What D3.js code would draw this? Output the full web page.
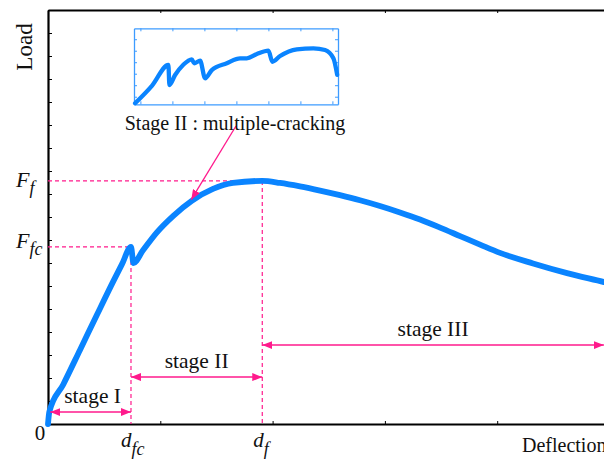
<!DOCTYPE html>
<html>
<head>
<meta charset="utf-8">
<script src="https://cdn.jsdelivr.net/npm/d3@7"></script>
<style>
  body { margin: 0; background: #fff; }
  svg { display: block; }
  text { font-family: "Liberation Serif", "Times New Roman", serif; fill: #111; }
</style>
</head>
<body>
<svg id="chart" width="604" height="463"></svg>
<script>
// Load–deflection response of the beam (arbitrary units)
const deflection = [0, 0.012, 0.136, 0.285, 0.436, 0.581, 0.659, 0.739, 0.761, 0.846, 0.968, 1.116, 1.28, 1.469, 1.647, 1.908, 2.066, 2.244, 2.422, 2.6, 2.778, 2.956, 3.134, 3.313, 3.491, 3.669, 3.847, 4.025, 4.319, 4.622, 4.951, 5.0];
const load = [0, 0.53, 1.72, 3.22, 4.75, 6.20, 6.95, 7.70, 7.0, 7.55, 8.32, 9.05, 9.70, 10.22, 10.48, 10.57, 10.48, 10.33, 10.15, 9.95, 9.73, 9.48, 9.20, 8.89, 8.54, 8.17, 7.80, 7.44, 6.98, 6.56, 6.17, 6.11];

// Close-up of the multiple-cracking branch
const insetX = [-0.166, 0.366, 0.875, 0.906, 1.084, 1.334, 1.606, 1.678, 1.866, 2.022, 2.231, 2.70, 3.116, 3.325, 3.638, 4.0, 4.125, 4.366, 4.888, 5.406, 5.772, 6.031, 6.15];
const insetY = [-0.57, 0.97, 2.76, 1.02, 1.89, 2.76, 3.25, 2.91, 3.13, 1.60, 2.32, 2.91, 3.34, 3.34, 3.71, 4.0, 3.04, 3.54, 4.12, 4.21, 4.06, 3.34, 1.9];

// Characteristic points
const dFc = 0.739, dF = 1.908;   // deflection at first crack / at peak
const FFc = 7.70, FF = 10.57;    // load at first crack / peak load

// Stage spans: [start, end, arrow height]
const stages = [
  { name: "stage I",   from: 0.02, to: dFc,  level: 0.52 },
  { name: "stage II",  from: dFc,  to: dF,   level: 2.04 },
  { name: "stage III", from: dF,   to: 4.95, level: 3.43 }
];

const xTicks = [0, 1, 2, 3, 4, 5];
const yTicks = d3.range(1, 18);
const insetXTicks = [0, 1, 2, 3, 4, 5, 6];
const insetYTicks = [0, 1, 2, 3, 4, 5];

const BLUE = "#0a84ff";
const PINK = "#ff1a8c";

const svg = d3.select("#chart");

const x = d3.scaleLinear().domain([0, 5]).range([48, 609.5]);
const y = d3.scaleLinear().domain([0, 18]).range([424, 10]);

// Arrowhead marker
const defs = svg.append("defs");
defs.append("marker")
  .attr("id", "head")
  .attr("viewBox", "0 0 10 8")
  .attr("refX", 10).attr("refY", 4)
  .attr("markerWidth", 10).attr("markerHeight", 8)
  .attr("markerUnits", "userSpaceOnUse")
  .attr("orient", "auto-start-reverse")
  .append("path").attr("d", "M0,0 L10,4 L0,8 Z").attr("fill", PINK);

// Frame and axes
function styleAxis(g, color, width) {
  g.select(".domain").attr("stroke", color).attr("stroke-width", width);
  g.selectAll(".tick line").attr("stroke", color).attr("stroke-width", 1);
}
svg.append("g").attr("transform", "translate(0,424)")
  .call(d3.axisBottom(x).tickValues(xTicks).tickSize(-3).tickSizeOuter(0).tickFormat(""))
  .call(g => styleAxis(g, "#000", 2));
svg.append("g").attr("transform", "translate(0,10)")
  .call(d3.axisTop(x).tickValues(xTicks).tickSize(-3).tickSizeOuter(0).tickFormat(""))
  .call(g => styleAxis(g, "#000", 2));
svg.append("g").attr("transform", "translate(48,0)")
  .call(d3.axisLeft(y).tickValues(yTicks).tickSize(-4).tickSizeOuter(0).tickFormat(""))
  .call(g => styleAxis(g, "#000", 2.2));

// Guide lines to the characteristic points
const guides = svg.append("g").attr("stroke", PINK).attr("stroke-width", 1.2)
  .attr("stroke-dasharray", "4,3").attr("fill", "none");
guides.append("line").attr("x1", x(0)).attr("x2", x(dF)).attr("y1", y(FF)).attr("y2", y(FF));
guides.append("line").attr("x1", x(dF)).attr("x2", x(dF)).attr("y1", y(FF)).attr("y2", y(0));
guides.append("line").attr("x1", x(0)).attr("x2", x(dFc)).attr("y1", y(FFc)).attr("y2", y(FFc));
guides.append("line").attr("x1", x(dFc)).attr("x2", x(dFc)).attr("y1", y(FFc)).attr("y2", y(0));

// Main curve
const pts = deflection.map((d, i) => [d, load[i]]);
svg.append("path")
  .datum(pts)
  .attr("fill", "none").attr("stroke", BLUE).attr("stroke-width", 5.8)
  .attr("stroke-linejoin", "round").attr("stroke-linecap", "round")
  .attr("d", d3.line().x(d => x(d[0])).y(d => y(d[1])).curve(d3.curveMonotoneX));

// Stage spans
const st = svg.append("g");
stages.forEach(s => {
  st.append("line")
    .attr("x1", x(s.from)).attr("x2", x(s.to))
    .attr("y1", y(s.level)).attr("y2", y(s.level))
    .attr("stroke", PINK).attr("stroke-width", 1.5)
    .attr("marker-start", "url(#head)").attr("marker-end", "url(#head)");
  st.append("text")
    .attr("x", (x(s.from) + x(s.to)) / 2 + (s.name === "stage I" ? 2 : 0))
    .attr("y", y(s.level) - 9)
    .attr("text-anchor", "middle").attr("font-size", 21.5)
    .text(s.name);
});

// Inset
const xi = d3.scaleLinear().domain([-0.2, 6.175]).range([134, 338]);
const yi = d3.scaleLinear().domain([-0.66, 5.95]).range([104.3, 28.3]);
const IBLUE = "#3d9bff";
const inset = svg.append("g");
inset.append("g").attr("transform", "translate(0,104.3)")
  .call(d3.axisBottom(xi).tickValues(insetXTicks).tickSize(-3).tickSizeOuter(0).tickFormat(""))
  .call(g => styleAxis(g, IBLUE, 1.3));
inset.append("g").attr("transform", "translate(0,28.3)")
  .call(d3.axisTop(xi).tickValues(insetXTicks).tickSize(-3).tickSizeOuter(0).tickFormat(""))
  .call(g => styleAxis(g, IBLUE, 1.3));
inset.append("g").attr("transform", "translate(134,0)")
  .call(d3.axisLeft(yi).tickValues(insetYTicks).tickSize(-3).tickSizeOuter(0).tickFormat(""))
  .call(g => styleAxis(g, IBLUE, 1.3));
inset.append("g").attr("transform", "translate(338,0)")
  .call(d3.axisRight(yi).tickValues(insetYTicks).tickSize(-3).tickSizeOuter(0).tickFormat(""))
  .call(g => styleAxis(g, IBLUE, 1.3));
inset.append("path")
  .datum(insetX.map((d, i) => [d, insetY[i]]))
  .attr("fill", "none").attr("stroke", BLUE).attr("stroke-width", 4.3)
  .attr("stroke-linejoin", "round").attr("stroke-linecap", "round")
  .attr("d", d3.line().x(d => xi(d[0])).y(d => yi(d[1])).curve(d3.curveMonotoneX));

// Pointer from the inset caption to the curve
svg.append("line")
  .attr("x1", 236).attr("y1", 126)
  .attr("x2", x(1.28) - 0.5).attr("y2", y(9.71) - 1)
  .attr("stroke", PINK).attr("stroke-width", 1.3)
  .attr("marker-end", "url(#head)");
svg.append("text").attr("x", 235).attr("y", 130)
  .attr("text-anchor", "middle").attr("font-size", 20)
  .text("Stage II : multiple-cracking");

// Axis titles
svg.append("text")
  .attr("transform", "translate(32,47) rotate(-90)")
  .attr("text-anchor", "middle").attr("font-size", 23)
  .text("Load");
svg.append("text").attr("x", 522).attr("y", 452).attr("font-size", 20).text("Deflection");
svg.append("text").attr("x", 40).attr("y", 440).attr("text-anchor", "middle").attr("font-size", 21).text("0");

// Subscripted symbols
function symbol(px, py, main, sub, size, subSize, dy) {
  const t = svg.append("text").attr("x", px).attr("y", py)
    .attr("font-size", size).attr("font-style", "italic");
  t.append("tspan").text(main);
  t.append("tspan").attr("font-size", subSize).attr("dy", dy).text(sub);
}
symbol(16, y(FF) + 6, "F", "f", 22, 18, 7);
symbol(16, y(FFc) + 1, "F", "fc", 22, 18, 7);
symbol(x(dFc) - 10, 447, "d", "fc", 21, 18, 8);
symbol(x(dF) - 9, 447, "d", "f", 21, 18, 8);
</script>
</body>
</html>
